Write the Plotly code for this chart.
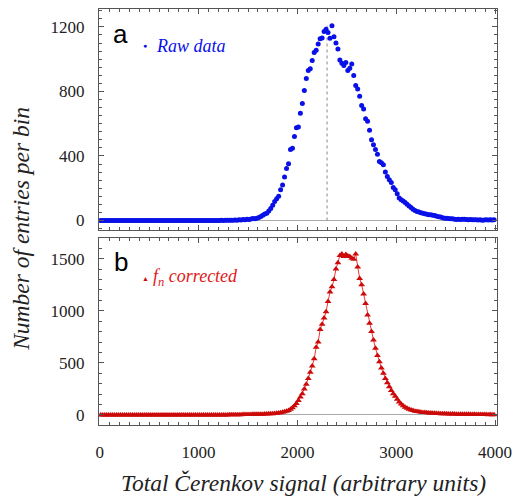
import plotly.graph_objects as go

# ---------------- data ----------------
BIN_WIDTH = 20
BIN_FIRST_CENTER = 10
N_BINS = 200

raw_counts = (
    [0] * 60
    + [0, 1, 0, 1, 1, 2, 1, 2, 3, 2]
    + [4, 3, 6, 5, 8, 6, 9, 12, 10, 14]
    + [18, 25, 33, 40, 45, 58, 74, 95, 118, 135]
    + [150, 190, 220, 270, 322, 352, 440, 448, 520, 575]
    + [580, 665, 725, 805, 880, 930, 940, 992, 1042, 1055]
    + [1094, 1127, 1131, 1172, 1185, 1166, 1129, 1207, 1139, 1100]
    + [1063, 995, 974, 960, 980, 929, 943, 970, 898, 836]
    + [815, 770, 712, 691, 630, 615, 560, 500, 470, 440]
    + [410, 365, 358, 345, 300, 272, 252, 235, 205, 190]
    + [165, 140, 128, 120, 112, 100, 90, 80, 70, 62]
    + [56, 52, 48, 44, 41, 38, 36, 35, 33, 31]
    + [26, 23, 21, 17, 14, 13, 12, 11, 10, 8]
    + [6, 7, 6, 8, 7, 6, 5, 6, 4, 5]
    + [4, 3, 4, 2, 3, 4, 3, 4, 3, 4]
)

corrected_counts = (
    [0] * 60
    + [0, 1, 1, 1, 1, 2, 2, 2, 2, 3]
    + [3, 3, 4, 4, 4, 5, 5, 6, 6, 7]
    + [7, 8, 8, 9, 10, 11, 12, 13, 15, 17]
    + [19, 22, 26, 30, 36, 44, 55, 70, 88, 110]
    + [140, 172, 205, 250, 295, 350, 410, 470, 540, 650]
    + [700, 820, 870, 930, 990, 1090, 1180, 1230, 1300, 1400]
    + [1460, 1530, 1545, 1520, 1540, 1525, 1520, 1505, 1495, 1545]
    + [1420, 1310, 1250, 1160, 1070, 960, 880, 800, 720, 640]
    + [570, 510, 450, 400, 350, 310, 270, 235, 205, 180]
    + [150, 125, 105, 88, 75, 64, 55, 48, 42, 37]
    + [33, 30, 27, 25, 23, 21, 19, 18, 17, 16]
    + [15, 14, 13, 12, 12, 11, 10, 10, 9, 9]
    + [8, 8, 7, 8, 7, 6, 7, 6, 5, 6]
    + [5, 5, 4, 5, 4, 4, 3, 4, 3, 3]
)

bin_centers = [BIN_FIRST_CENTER + BIN_WIDTH * i for i in range(N_BINS)]

PEAK_X = 2300  # dotted reference line in panel a

x_tick_vals = [0, 1000, 2000, 3000, 4000]
x_tick_text = ["0", "1000", "2000", "3000", "4000"]
ya_tick_vals = [0, 400, 800, 1200]
ya_tick_text = ["0", "400", "800", "1200"]
yb_tick_vals = [0, 500, 1000, 1500]
yb_tick_text = ["0", "500", "1000", "1500"]

x_title = "Total Čerenkov signal (arbitrary units)"
y_title = "Number of entries per bin"
label_a = "Raw data"
label_b = "<i>f<sub>n</sub> corrected</i>"

# ---------------- layout helpers ----------------
W, H = 520, 497
L, R, T, B = 99, 16, 8, 72
PW, PH = W - L - R, H - T - B


def px(xp):
    return (xp - L) / PW


def py(yp):
    return (H - B - yp) / PH


BLUE = "#0a10e8"
RED_M = "#cc0a0a"
RED_L = "#e83a3a"
FRAME = "#555555"
SERIF = "Liberation Serif, Times New Roman, serif"
SANS = "Liberation Sans, Arial, sans-serif"

fig = go.Figure()

fig.add_trace(go.Scatter(
    x=[PEAK_X, PEAK_X], y=[0, max(raw_counts)], mode="lines",
    line=dict(color="#888888", width=1, dash="dot"),
    xaxis="x", yaxis="y", showlegend=False, hoverinfo="skip"))

fig.add_trace(go.Scatter(
    x=bin_centers, y=raw_counts, mode="markers",
    marker=dict(color=BLUE, size=5),
    xaxis="x", yaxis="y", showlegend=False, name=label_a))

fig.add_trace(go.Scatter(
    x=bin_centers, y=corrected_counts, mode="lines+markers",
    line=dict(color=RED_L, width=1),
    marker=dict(color=RED_M, size=6, symbol="triangle-up"),
    xaxis="x2", yaxis="y2", showlegend=False, name="fn corrected"))

axis_common = dict(
    showline=True, linecolor=FRAME, linewidth=1, mirror="allticks",
    ticks="inside", ticklen=5, tickcolor=FRAME, tickwidth=1,
    showgrid=False,
    tickfont=dict(family=SERIF, size=17, color="#222222"),
)

x_range = [-8, 4020]

fig.update_layout(
    width=W, height=H,
    margin=dict(l=L, r=R, t=T, b=B),
    paper_bgcolor="white", plot_bgcolor="white",
    xaxis=dict(domain=[0, 1], anchor="y", range=x_range,
               tickvals=x_tick_vals, showticklabels=False,
               minor=dict(dtick=100, ticklen=3, ticks="inside", tickcolor=FRAME),
               zeroline=False, **axis_common),
    yaxis=dict(domain=[py(230), py(8)], anchor="x", range=[-62, 1311],
               tickvals=ya_tick_vals, ticktext=ya_tick_text,
               minor=dict(dtick=50, ticklen=3, ticks="inside", tickcolor=FRAME),
               zeroline=True, zerolinecolor="#aaaaaa", zerolinewidth=1,
               ticklabelstandoff=10, **axis_common),
    xaxis2=dict(domain=[0, 1], anchor="y2", range=x_range,
                tickvals=x_tick_vals, ticktext=x_tick_text,
                minor=dict(dtick=100, ticklen=3, ticks="inside", tickcolor=FRAME),
                zeroline=False, ticklabelstandoff=12, **axis_common),
    yaxis2=dict(domain=[py(425), py(238)], anchor="x2", range=[-96, 1694],
                tickvals=yb_tick_vals, ticktext=yb_tick_text,
                minor=dict(dtick=100, ticklen=3, ticks="inside", tickcolor=FRAME),
                zeroline=True, zerolinecolor="#aaaaaa", zerolinewidth=1,
                ticklabelstandoff=10, **axis_common),
)

annotations = [
    dict(text="a", x=px(121), y=py(33), font=dict(family=SANS, size=26, color="black")),
    dict(text="b", x=px(121), y=py(262), font=dict(family=SANS, size=26, color="black")),
    dict(text="●", x=px(146), y=py(45), font=dict(family=SANS, size=7, color=BLUE)),
    dict(text="<i>" + label_a + "</i>", x=px(155), y=py(45), xanchor="left",
         font=dict(family=SERIF, size=18, color=BLUE)),
    dict(text="▲", x=px(146), y=py(278), font=dict(family=SANS, size=7, color=RED_M)),
    dict(text=label_b, x=px(152), y=py(277), xanchor="left",
         font=dict(family=SERIF, size=18, color="#e01818")),
    dict(text="<i>" + x_title + "</i>", x=px(307), y=py(483),
         font=dict(family=SERIF, size=23.5, color="#222222")),
    dict(text="<i>" + y_title + "</i>", x=px(20), y=py(228), textangle=-90,
         font=dict(family=SERIF, size=23.5, color="#222222")),
]
for a in annotations:
    a.setdefault("xanchor", "center")
    a.setdefault("yanchor", "middle")
    a.update(xref="paper", yref="paper", showarrow=False)
fig.update_layout(annotations=annotations)

# remove the browser's default 8px page margin so the figure sits at (0, 0)
fig.write_html(
    "out.html",
    config={"displayModeBar": False},
    post_script="document.body.style.margin='0';document.body.style.overflow='hidden';",
)
